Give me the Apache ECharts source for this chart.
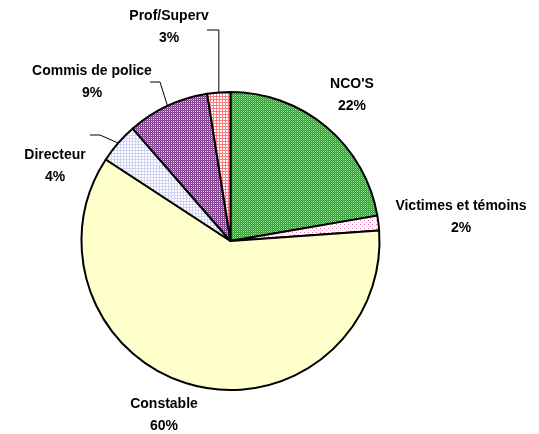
<!DOCTYPE html>
<html><head><meta charset="utf-8">
<script src="https://cdn.jsdelivr.net/npm/echarts@6/dist/echarts.min.js"></script>
<style>html,body{margin:0;padding:0;background:#fff}#c{width:539px;height:434px}</style>
</head><body><div id="c"></div>
<script>
// ---- data ----
const categories = ["NCO'S", "Victimes et témoins", "Constable", "Directeur", "Commis de police", "Prof/Superv"];
const values = [22.3, 1.6, 60.4, 4.4, 8.9, 2.5];

// ---- styling ----
const CX = 230.5, CY = 241, R = 149;
// label centres and leader elbows (styling only)
const labelPos = [[352, 95], [461, 217], [164, 415], [55, 166], [92, 82], [169, 27]];
const leaders = [null, null, null, [[100, 135], [90, 135]], [[160, 82], [150, 82]], ['v', [207, 30]]];

function pattern(size, draw) {
  const c = document.createElement('canvas');
  c.width = size; c.height = size;
  const g = c.getContext('2d');
  draw(g);
  return { image: c, repeat: 'repeat' };
}
function px(g, x, y, col) { g.fillStyle = col; g.fillRect(x, y, 1, 1); }

const fills = [
  pattern(2, g => { g.fillStyle = '#339933'; g.fillRect(0,0,2,2); px(g,1,1,'#a8dca8'); px(g,0,0,'#5cb85c'); }),
  pattern(4, g => { g.fillStyle = '#ffffff'; g.fillRect(0,0,4,4); px(g,0,0,'#e070b0'); px(g,2,2,'#e8a8cc'); }),
  '#ffffcc',
  pattern(3, g => { g.fillStyle = '#ffffff'; g.fillRect(0,0,3,3); g.fillStyle = '#d2d2f2'; g.fillRect(0,0,3,1); g.fillRect(0,0,1,3); }),
  pattern(2, g => { g.fillStyle = '#7a3a8a'; g.fillRect(0,0,2,2); px(g,1,1,'#ead8ee'); px(g,0,0,'#9a5aa8'); }),
  pattern(3, g => { g.fillStyle = '#ffffff'; g.fillRect(0,0,3,3); g.fillStyle = '#ff7a7a'; g.fillRect(0,0,3,1); g.fillRect(0,0,1,3); })
];

const total = values.reduce((a, b) => a + b, 0);
const midAngles = [];
{ let cum = 0; values.forEach(v => { midAngles.push((cum + v / 2) / total * 2 * Math.PI); cum += v; }); }

const chart = echarts.init(document.getElementById('c'), null, { renderer: 'canvas' });
chart.setOption({
  animation: false,
  backgroundColor: '#fff',
  series: [{
    type: 'pie',
    center: [CX, CY],
    radius: R,
    startAngle: 90,
    clockwise: true,
    percentPrecision: 0,
    avoidLabelOverlap: false,
    emphasis: { disabled: true },
    itemStyle: { borderColor: '#000', borderWidth: 2 },
    label: {
      show: true,
      position: 'outside',
      formatter: '{b}\n{d}%',
      color: '#000',
      fontFamily: 'Liberation Sans, Arial, sans-serif',
      fontWeight: 'bold',
      fontSize: 14,
      lineHeight: 22,
      align: 'center'
    },
    labelLine: { show: true, lineStyle: { color: '#000', width: 1 } },
    labelLayout: function (p) {
      const i = p.dataIndex;
      const out = { x: labelPos[i][0], y: labelPos[i][1], align: 'center', verticalAlign: 'middle' };
      const L = leaders[i];
      if (L) {
        const a = midAngles[i];
        const ex = CX + R * Math.sin(a), ey = CY - R * Math.cos(a);
        if (L[0] === 'v') out.labelLinePoints = [[ex, ey], [ex, L[1][1]], L[1]];
        else out.labelLinePoints = [[ex, ey], L[0], L[1]];
      }
      return out;
    },
    data: categories.map((n, i) => ({
      name: n, value: values[i],
      itemStyle: { color: fills[i] },
      labelLine: { show: !!leaders[i] }
    }))
  }]
});
</script>
</body></html>
